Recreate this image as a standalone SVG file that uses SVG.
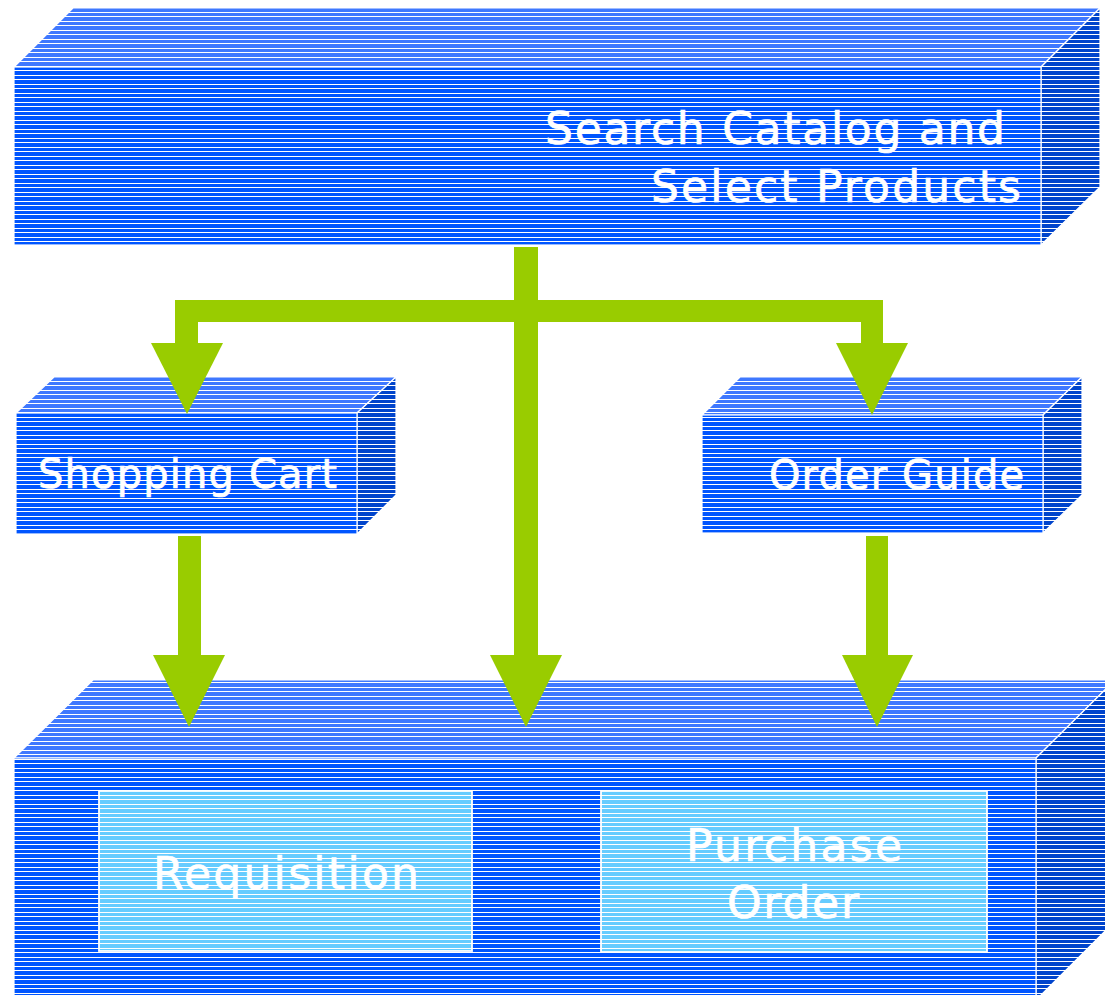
<svg xmlns="http://www.w3.org/2000/svg" width="1105" height="995" viewBox="0 0 1105 995">
<defs>
<pattern id="pFront" patternUnits="userSpaceOnUse" width="20" height="9"><rect width="20" height="9" fill="#0055FF"/><rect y="3" width="20" height="1" fill="#FFFFFF"/><rect y="7" width="20" height="1" fill="#FFFFFF"/></pattern>
<pattern id="pTop" patternUnits="userSpaceOnUse" width="20" height="9"><rect width="20" height="9" fill="#3F78FF"/><rect y="3" width="20" height="1" fill="#FFFFFF"/><rect y="7" width="20" height="1" fill="#FFFFFF"/></pattern>
<pattern id="pSide" patternUnits="userSpaceOnUse" width="20" height="9"><rect width="20" height="9" fill="#0044CC"/><rect y="3" width="20" height="1" fill="#FFFFFF"/><rect y="7" width="20" height="1" fill="#FFFFFF"/></pattern>
<pattern id="pInner" patternUnits="userSpaceOnUse" width="20" height="9"><rect width="20" height="9" fill="#66CCFF"/><rect y="3" width="20" height="1" fill="#FFFFFF"/><rect y="7" width="20" height="1" fill="#FFFFFF"/></pattern>
</defs>
<style>
.front{fill:url(#pFront);stroke:#FFFFFF;stroke-width:1.2}
.top{fill:url(#pTop);stroke:#FFFFFF;stroke-width:1.2}
.side{fill:url(#pSide);stroke:#FFFFFF;stroke-width:1.2}
.inner{fill:url(#pInner);stroke:#FFFFFF;stroke-width:1.8}
.lbl{font-family:"DejaVu Sans","Liberation Sans",sans-serif;fill:#FFFFFF;stroke:#FFFFFF;stroke-width:0.7}
.arrow{fill:#99CC00}
</style>
<rect width="1105" height="995" fill="#FFFFFF"/>

<g id="node-search">
<polygon class="top" points="14,67 73,8 1100,8 1041,67"/>
<polygon class="side" points="1041,67 1100,8 1100,187 1041,245"/>
<rect class="front" x="14" y="67" width="1027" height="178"/>
<text class="lbl" x="545" y="144" font-size="44" textLength="460" lengthAdjust="spacing">Search Catalog and</text>
<text class="lbl" x="651" y="202" font-size="44" textLength="370" lengthAdjust="spacing">Select Products</text>
</g>

<g id="node-cart">
<polygon class="top" points="16,413 54,377 396,377 357,413"/>
<polygon class="side" points="357,413 396,377 396,495 357,534"/>
<rect class="front" x="16" y="413" width="341" height="121"/>
<text class="lbl" x="38" y="488" font-size="40" textLength="299" lengthAdjust="spacing">Shopping Cart</text>
</g>

<g id="node-guide">
<polygon class="top" points="702,415 740,377 1082,377 1043,415"/>
<polygon class="side" points="1043,415 1082,377 1082,495 1043,533"/>
<rect class="front" x="702" y="415" width="341" height="118"/>
<text class="lbl" x="769" y="489" font-size="40" textLength="255" lengthAdjust="spacing">Order Guide</text>
</g>

<g id="node-output">
<polygon class="top" points="14,758 93,680 1115,680 1036,758"/>
<polygon class="side" points="1036,758 1115,680 1115,921 1036,1000"/>
<rect class="front" x="14" y="758" width="1022" height="242"/>
</g>

<g id="node-requisition">
<rect class="inner" x="99" y="791" width="373" height="160"/>
<text class="lbl" x="153" y="889" font-size="44" textLength="266" lengthAdjust="spacing">Requisition</text>
</g>

<g id="node-po">
<rect class="inner" x="601" y="791" width="386" height="161"/>
<text class="lbl" x="686" y="861" font-size="44" textLength="216" lengthAdjust="spacing">Purchase</text>
<text class="lbl" x="727" y="918" font-size="44" textLength="132" lengthAdjust="spacing">Order</text>
</g>

<g id="connectors">
<rect class="arrow" x="514" y="247" width="24" height="409"/>
<polygon class="arrow" points="490,655 562,655 526,727"/>
<rect class="arrow" x="175" y="300" width="708" height="22"/>
<rect class="arrow" x="175" y="300" width="23" height="44"/>
<polygon class="arrow" points="151,343 223,343 187,414"/>
<rect class="arrow" x="861" y="300" width="22" height="44"/>
<polygon class="arrow" points="836,343 908,343 872,415"/>
<rect class="arrow" x="178" y="536" width="23" height="120"/>
<polygon class="arrow" points="153,655 225,655 189,727"/>
<rect class="arrow" x="866" y="536" width="22" height="120"/>
<polygon class="arrow" points="842,655 913,655 877,727"/>
</g>
</svg>
